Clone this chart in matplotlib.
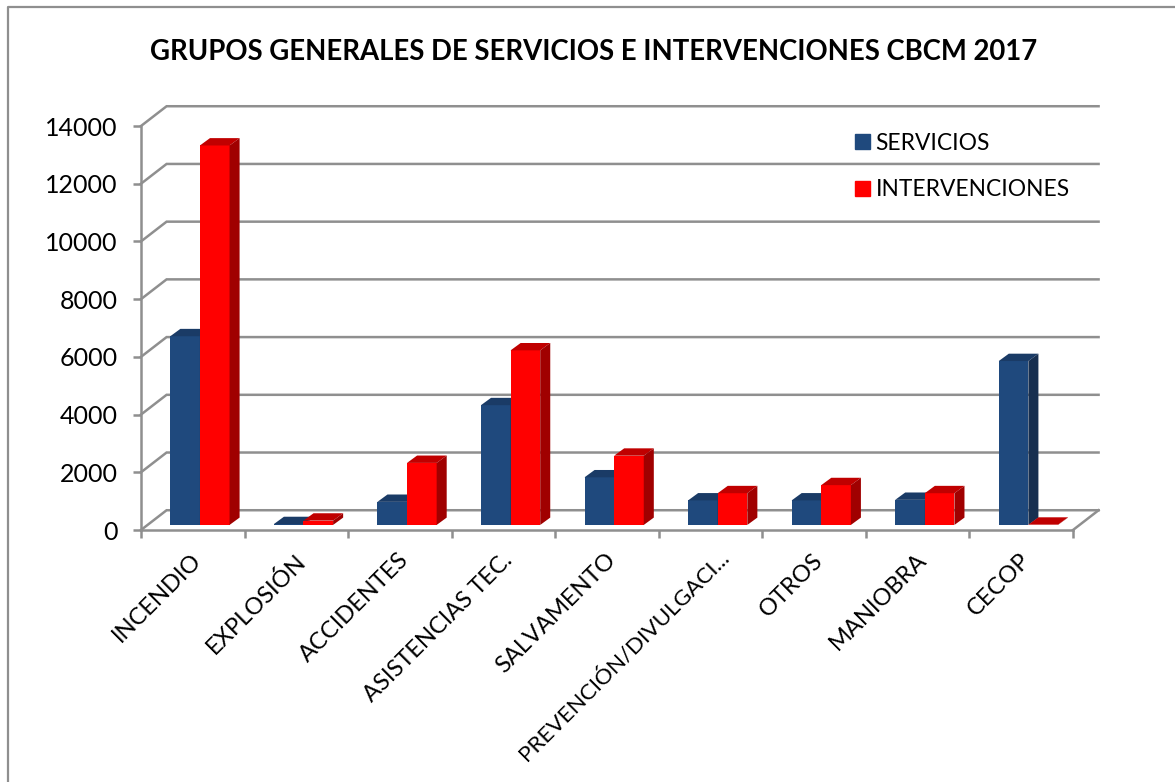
"""Grupos generales de servicios e intervenciones CBCM 2017 (columnas 3D)."""

import matplotlib
matplotlib.use("Agg")
import matplotlib.pyplot as plt
from matplotlib.lines import Line2D
from matplotlib.patches import Patch, Polygon
from matplotlib.transforms import Affine2D

plt.rcParams.update({
    "font.family": ["Lato", "DejaVu Sans"],
    "font.size": 17,
})

categorias = ["INCENDIO", "EXPLOSIÓN", "ACCIDENTES", "ASISTENCIAS TEC.", "SALVAMENTO",
              "PREVENCIÓN/DIVULGACI...", "OTROS", "MANIOBRA", "CECOP"]
servicios = [6540, 30, 800, 4150, 1650, 850, 850, 870, 5680]
intervenciones = [13150, 150, 2150, 6050, 2400, 1100, 1380, 1100, 10]
y_ticks = [0, 2000, 4000, 6000, 8000, 10000, 12000, 14000]

_GRID = "#8f8f8f"
_AZUL = ("#1F497D", "#1A3B66", "#172F50")
_ROJO = ("#FF0000", "#C00000", "#A00000")

# profundidad del efecto 3D, en unidades de los ejes
_PARED_X, _PARED_Y = 0.247, 685
_BAR_X, _BAR_Y = 0.097, 255
_BASE = 175
_BAR_W = 0.286
_BAR_INI = 0.283


def barra_3d(ax, x, valor, colores):
    frente, techo, lado = colores
    top = _BASE + valor
    ax.add_patch(Polygon([(x, _BASE), (x + _BAR_W, _BASE), (x + _BAR_W, top), (x, top)],
                         color=frente, lw=0, zorder=3, clip_on=False))
    ax.add_patch(Polygon([(x, top), (x + _BAR_W, top),
                          (x + _BAR_W + _BAR_X, top + _BAR_Y), (x + _BAR_X, top + _BAR_Y)],
                         color=techo, lw=0, zorder=3, clip_on=False))
    ax.add_patch(Polygon([(x + _BAR_W, _BASE), (x + _BAR_W + _BAR_X, _BASE + _BAR_Y),
                          (x + _BAR_W + _BAR_X, top + _BAR_Y), (x + _BAR_W, top)],
                         color=lado, lw=0, zorder=3, clip_on=False))


fig = plt.figure(figsize=(11.75, 7.82), dpi=100)
ax = fig.add_axes([141 / 1175, 1 - 530 / 782, 932 / 1175, 404 / 782])
ax.set_xlim(0, len(categorias))
ax.set_ylim(0, 14000)

# paredes: lineas de division con su quiebre en perspectiva
for v in y_ticks:
    ax.plot([0, _PARED_X, len(categorias) + _PARED_X], [v, v + _PARED_Y, v + _PARED_Y],
            color=_GRID, lw=1.8, zorder=1, clip_on=False, solid_joinstyle="miter")
ax.plot([len(categorias), len(categorias) + _PARED_X], [0, _PARED_Y],
        color=_GRID, lw=1.8, zorder=1, clip_on=False)

for i in range(len(categorias)):
    x0 = i + _BAR_INI
    barra_3d(ax, x0, servicios[i], _AZUL)
    barra_3d(ax, x0 + _BAR_W, intervenciones[i], _ROJO)

for lado in ("top", "right"):
    ax.spines[lado].set_visible(False)
for lado in ("left", "bottom"):
    ax.spines[lado].set_color(_GRID)
    ax.spines[lado].set_linewidth(1.8)

ax.set_yticks(y_ticks)
ax.tick_params(axis="y", length=6, width=1.8, color=_GRID, pad=11, labelsize=18)
ax.set_xticks(range(len(categorias) + 1))
ax.set_xticklabels([])
ax.tick_params(axis="x", which="major", length=6, width=1.8, color=_GRID)
ax.set_xticks([i + 0.5 for i in range(len(categorias))], minor=True)
etiquetas = ax.set_xticklabels(categorias, minor=True, rotation=45, ha="right", va="top",
                               rotation_mode="anchor", fontsize=17)
ax.tick_params(axis="x", which="minor", length=0, pad=14)

# la etiqueta recortada va algo mas corta y corrida, como en Excel
for n, et in enumerate(etiquetas):
    dx, dy = (8, 3) if n == 5 else (-2, 0)
    et.set_transform(et.get_transform() + Affine2D().translate(dx, dy))
etiquetas[5].set_fontsize(16.2)

handles = [Patch(color=_AZUL[0], label="SERVICIOS"), Patch(color=_ROJO[0], label="INTERVENCIONES")]
fig.legend(handles=handles, frameon=False, loc="upper left", fontsize=16.4,
           bbox_to_anchor=(850 / 1175, 1 - 128 / 782), bbox_transform=fig.transFigure,
           handlelength=0.66, handleheight=0.66, handletextpad=0.26,
           labelspacing=1.13, borderpad=0.2, borderaxespad=0)

fig.text(593.5 / 1175, 1 - 52 / 782, "GRUPOS GENERALES DE SERVICIOS E INTERVENCIONES CBCM 2017",
         ha="center", va="center", fontsize=19.8, fontweight="bold", color="black")

# marco del grafico, solo se ve arriba y a la izquierda
fig.add_artist(Line2D([8 / 1175, 8 / 1175, 1], [0, 1 - 7 / 782, 1 - 7 / 782],
                      color=_GRID, lw=1.6, transform=fig.transFigure))

fig.savefig("out.png", dpi=100)
plt.close(fig)
